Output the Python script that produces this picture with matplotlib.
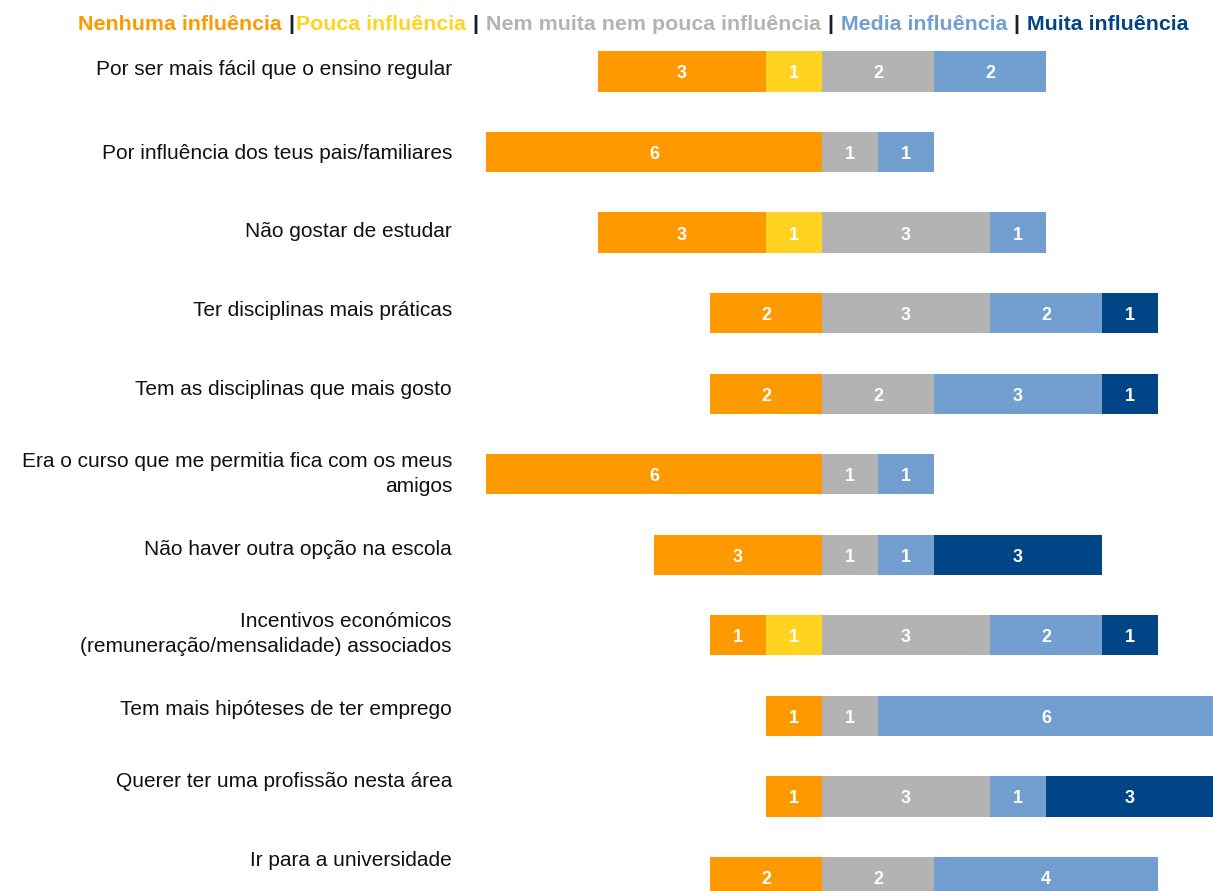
import numpy as np
import matplotlib.pyplot as plt

plt.rcParams['font.family'] = ['Liberation Sans', 'DejaVu Sans']

categories = [
    'Por ser mais fácil que o ensino regular',
    'Por influência dos teus pais/familiares',
    'Não gostar de estudar',
    'Ter disciplinas mais práticas',
    'Tem as disciplinas que mais gosto',
    'Era o curso que me permitia fica com os meus\namigos',
    'Não haver outra opção na escola',
    'Incentivos económicos\n(remuneração/mensalidade) associados',
    'Tem mais hipóteses de ter emprego',
    'Querer ter uma profissão nesta área',
    'Ir para a universidade',
]
levels = ['Nenhuma influência', 'Pouca influência', 'Nem muita nem pouca influência',
          'Media influência', 'Muita influência']
nenhuma = [3, 6, 3, 2, 2, 6, 3, 1, 1, 1, 2]
pouca = [1, 0, 1, 0, 0, 0, 0, 1, 0, 0, 0]
neutro = [2, 1, 3, 3, 2, 1, 1, 3, 1, 3, 2]
media = [2, 1, 1, 2, 3, 1, 1, 2, 6, 1, 4]
muita = [0, 0, 0, 1, 1, 0, 3, 1, 0, 3, 0]

colors = ['#ff9900', '#ffd320', '#b3b3b3', '#729fcf', '#004586']
# small vertical shift of the category labels (pixels, + = up)
label_shift = [2, -1, 1, 3, 4, 0, 5, 1, 6, 15, 16]

W, H = 1213, 891
fig = plt.figure(figsize=(W / 100, H / 100), dpi=100)
ax = fig.add_axes([470 / W, 0, 1 - 470 / W, 1])

y = np.arange(len(categories))
neg1 = -np.array(nenhuma) - np.array(pouca)
series = [nenhuma, pouca, neutro, media, muita]
left = neg1.astype(float)
for vals, c in zip(series, colors):
    vals = np.array(vals, dtype=float)
    ax.barh(y, vals, left=left, height=0.5, color=c, edgecolor='none')
    for yi, l, v in zip(y, left, vals):
        if v > 0:
            ax.text(l + v / 2, yi + 0.03, str(int(v)), color='white', fontsize=13,
                    fontweight='bold', ha='center', va='center')
    left = left + vals

ax.set_xlim(-(822 - 470) / 56, (W - 822) / 56)
ax.set_ylim((H - 71.5) / 80.55, -71.5 / 80.55)
ax.axis('off')

# category labels to the left of the bars
for yi, lab, sh in zip(y, categories, label_shift):
    ax.annotate(lab, xy=(452 / W, yi), xycoords=('figure fraction', 'data'),
                xytext=(0, sh * 0.72), textcoords='offset points',
                ha='right', va='center', fontsize=15, color='#111111',
                linespacing=1.38)

# coloured legend line at the top
fig.canvas.draw()
renderer = fig.canvas.get_renderer()
x = 78
seps = [' |', ' | ', ' | ', ' | ']
for i, (name, c) in enumerate(zip(levels, colors)):
    if i > 0:
        t = fig.text(x / W, 1 - 24 / H, seps[i - 1], color='#1a1a2e', fontsize=15.4,
                     fontweight='bold', va='center', ha='left')
        x = t.get_window_extent(renderer).x1 + 1
    t = fig.text(x / W, 1 - 24 / H, name, color=c, fontsize=15.4,
                 fontweight='bold', va='center', ha='left')
    x = t.get_window_extent(renderer).x1 + 1

fig.savefig('out.png', dpi=100)
